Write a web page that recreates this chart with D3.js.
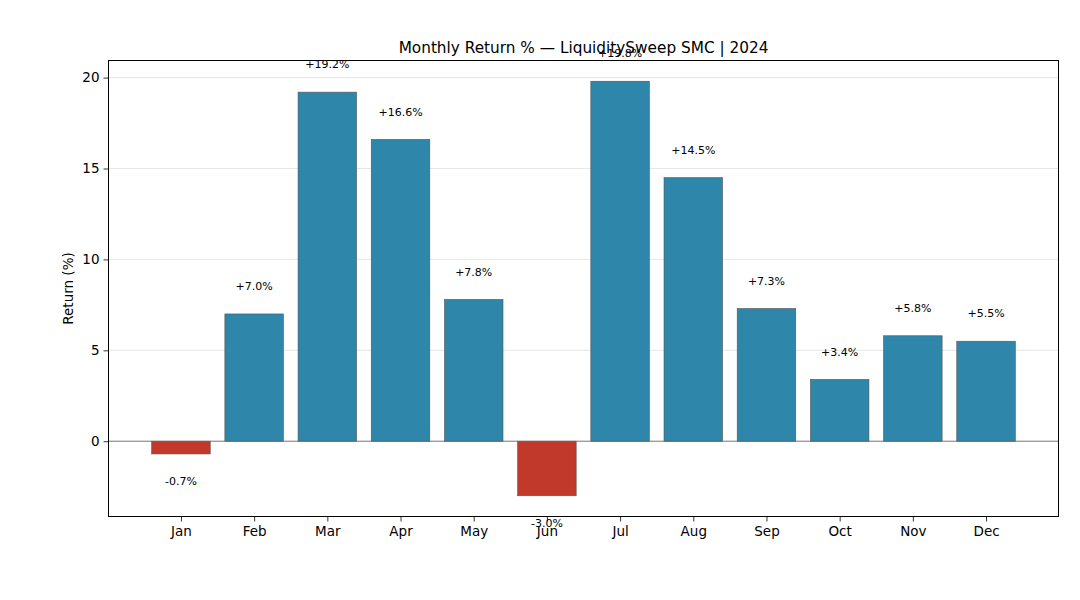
<!DOCTYPE html>
<html><head><meta charset="utf-8">
<script src="https://cdn.jsdelivr.net/npm/d3@7"></script>
<style>body{margin:0;background:#fff;} text{font-family:"DejaVu Sans",sans-serif;}</style>
</head><body>
<svg id="c" width="1080" height="600"></svg>
<script>
const months = ["Jan","Feb","Mar","Apr","May","Jun","Jul","Aug","Sep","Oct","Nov","Dec"];
const returns = [-0.7, 7.0, 19.2, 16.6, 7.8, -3.0, 19.8, 14.5, 7.3, 3.4, 5.8, 5.5];
const yTicks = [0, 5, 10, 15, 20];
const titleText = "Monthly Return % — LiquiditySweep SMC | 2024";
const yLabel = "Return (%)";

const svg = d3.select("#c");
const L = 108.5, R = 1058.5, T = 60.5, B = 516.5;
const barW = 0.8;
const x = d3.scaleLinear().domain([-0.99, 11.99]).range([L, R]);
const yMin = Math.min(...returns), yMax = Math.max(...returns);
const pad = (yMax - yMin) * 0.05;
const y = d3.scaleLinear().domain([yMin - pad, yMax + pad]).range([B, T]);

// grid
svg.append("g").selectAll("line").data(yTicks).join("line")
  .attr("x1", L).attr("x2", R).attr("y1", d => y(d)).attr("y2", d => y(d))
  .attr("stroke", "#b0b0b0").attr("stroke-opacity", 0.4).attr("stroke-width", 0.8);

// bars
svg.append("g").selectAll("rect").data(returns).join("rect")
  .attr("x", (d, i) => x(i - barW / 2))
  .attr("width", (d, i) => x(i + barW / 2) - x(i - barW / 2))
  .attr("y", d => y(Math.max(0, d)))
  .attr("height", d => Math.abs(y(d) - y(0)))
  .attr("fill", d => d >= 0 ? "#2E86AB" : "#C0392B")
  .attr("stroke", "#555").attr("stroke-width", 0.6);

// zero line
svg.append("line").attr("x1", L).attr("x2", R).attr("y1", y(0)).attr("y2", y(0))
  .attr("stroke", "#666").attr("stroke-width", 0.8);

// value labels
svg.append("g").selectAll("text").data(returns).join("text")
  .attr("x", (d, i) => x(i))
  .attr("y", d => y(d >= 0 ? d + 1.5 : d - 1.5))
  .attr("text-anchor", "middle").attr("dominant-baseline", "central")
  .attr("font-size", "11px").attr("fill", "#000")
  .text(d => (d >= 0 ? "+" : "") + d.toFixed(1) + "%");

// axes
const xAxis = d3.axisBottom(x).tickValues(d3.range(months.length)).tickFormat(i => months[i]).tickSizeOuter(0).tickSize(5).tickPadding(5);
const gx = svg.append("g").attr("transform", `translate(0,${B})`).call(xAxis);
gx.select(".domain").remove();
gx.selectAll("text").attr("font-size", "13.5px").attr("fill", "#000").style("font-family", "DejaVu Sans");
gx.selectAll("line").attr("stroke", "#000").attr("stroke-width", 0.8);

const yAxis = d3.axisLeft(y).tickValues(yTicks).tickFormat(d3.format("d")).tickSizeOuter(0).tickSize(5).tickPadding(4);
const gy = svg.append("g").attr("transform", `translate(${L},0)`).call(yAxis);
gy.select(".domain").remove();
gy.selectAll("text").attr("font-size", "13.5px").attr("fill", "#000").style("font-family", "DejaVu Sans");
gy.selectAll("line").attr("stroke", "#000").attr("stroke-width", 0.8);

// frame
svg.append("rect").attr("x", L).attr("y", T).attr("width", R - L).attr("height", B - T)
  .attr("fill", "none").attr("stroke", "#000").attr("stroke-width", 1);

// title
svg.append("text").attr("x", (L + R) / 2).attr("y", 52.5).attr("text-anchor", "middle")
  .attr("font-size", "15.3px").attr("fill", "#000").text(titleText);

// y label
svg.append("text").attr("transform", `translate(73,${(T + B) / 2}) rotate(-90)`)
  .attr("text-anchor", "middle").attr("font-size", "13.5px").attr("fill", "#000").text(yLabel);
</script>
</body></html>
